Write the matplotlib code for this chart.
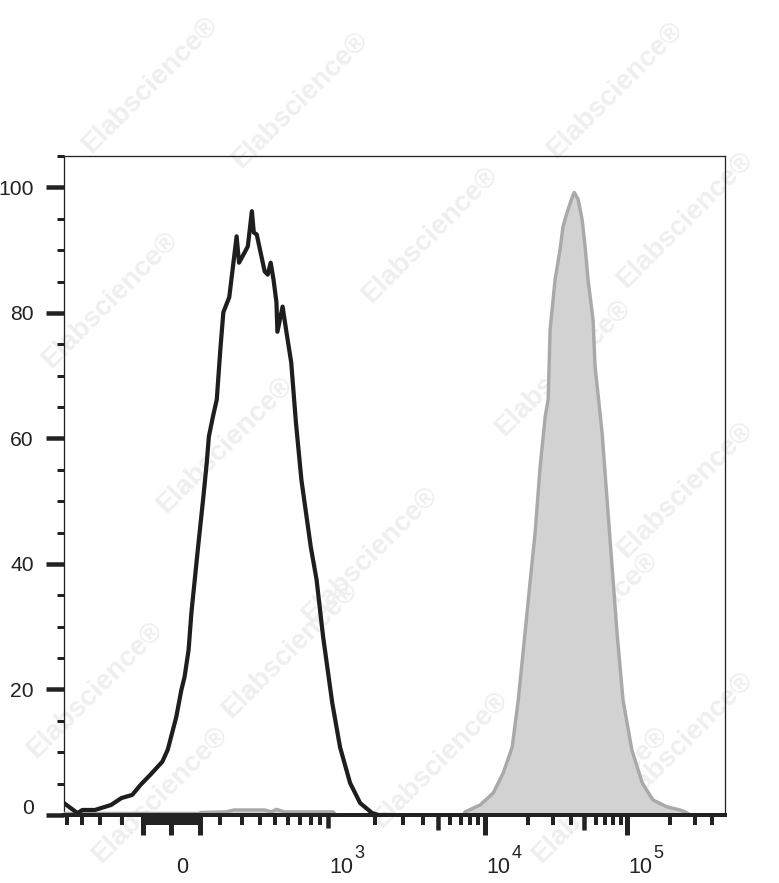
import numpy as np
import matplotlib
matplotlib.use("Agg")
import matplotlib.pyplot as plt
from matplotlib.transforms import ScaledTranslation

# ---------------- data ----------------
# control histogram (black outline), x = fluorescence, y = % of max
black_x = [-525, -431, -400, -328, -248, -204, -148, -110, -72, -30, -12, 16, 33, 44,
           58, 68, 93, 115, 130, 140, 160, 180, 200, 212, 237, 271, 283, 311, 328,
           350, 361, 378, 427, 447, 467, 487, 508, 515, 554, 585, 623, 662, 710,
           800, 863, 938, 1060, 1190, 1380, 1600, 1910, 2100, 2500]
black_y = [1.9, 0.3, 0.8, 0.8, 1.6, 2.7, 3.2, 4.8, 6.4, 8.5, 10.4, 15.6, 19.9, 22.0,
           26.3, 32.2, 42.7, 50.7, 56.1, 60.3, 63.5, 66.2, 74.2, 80.1, 82.5, 92.2, 88.0,
           89.6, 90.6, 96.2, 92.8, 92.5, 86.6, 86.1, 88.0, 85.3, 81.7, 77.0, 81.0, 76.9,
           72.1, 62.5, 53.4, 42.7, 37.5, 28.4, 17.9, 10.8, 5.1, 1.9, 0.3, 0.0, 0.0]

# stained histogram (grey filled)
gray_x = [-525, 95, 103, 225, 258, 427, 473, 508, 569, 1075, 1120, 7240, 7460, 9290,
          1.14e4, 1.34e4, 1.55e4, 1.71e4, 1.91e4, 2.07e4, 2.25e4, 2.44e4, 2.65e4,
          2.78e4, 2.87e4, 3.11e4, 3.37e4, 3.54e4, 3.78e4, 4.10e4, 4.24e4, 4.52e4,
          4.82e4, 5.06e4, 5.31e4, 5.76e4, 5.95e4, 6.67e4, 7.23e4, 7.84e4, 8.50e4,
          9.37e4, 1.08e5, 1.28e5, 1.52e5, 1.91e5, 2.36e5, 2.56e5, 2.8e5, 4.9e5]
gray_y = [0.25, 0.25, 0.4, 0.5, 0.8, 0.8, 0.5, 0.9, 0.5, 0.5, 0, 0, 0.5, 1.6,
          3.5, 6.7, 10.8, 18.3, 29.0, 37.0, 45.0, 55.5, 63.5,
          66.2, 77.4, 85.3, 90.1, 93.8, 96.0, 98.4, 99.2, 98.1,
          94.9, 90.6, 85.3, 78.9, 71.5, 60.9, 50.2, 39.6, 29.0,
          18.3, 10.4, 5.1, 2.4, 1.3, 0.8, 0.5, 0, 0]

x_major = [-100, 0, 100, 1e3, 5e3, 1e4, 5e4, 1e5]
x_major_labels = ["", "0", "", "10", "", "10", "", "10"]
x_major_exponents = ["", "", "", "3", "", "4", "", "5"]
x_minor = ([-500, -400, -300, -200] + list(range(-90, 0, 10)) + list(range(10, 100, 10))
           + [200, 300, 400, 500, 600, 700, 800, 900]
           + [2e3, 3e3, 4e3, 6e3, 7e3, 8e3, 9e3]
           + [2e4, 3e4, 4e4, 6e4, 7e4, 8e4, 9e4]
           + [2e5, 3e5, 4e5])
y_major = [0, 20, 40, 60, 80, 100]
y_minor = [5, 10, 15, 25, 30, 35, 45, 50, 55, 65, 70, 75, 85, 90, 95, 105]

# ---------------- biexponential-like display scale ----------------
SCALE_V = np.array([0, 100, 200, 300, 400, 500, 600, 700, 800, 900, 1000, 1e4, 1e5])
SCALE_O = np.array([0, 28.5, 49, 71, 89, 104, 117, 129, 139.5, 148.5, 157, 314, 456])
SCALE_C = 150.0
SCALE_A = np.arcsinh(SCALE_V / SCALE_C)
DEC_HI = 142.0


def _fwd(v):
    v = np.asarray(v, dtype=float)
    a = np.abs(v)
    lo = np.interp(np.arcsinh(a / SCALE_C), SCALE_A, SCALE_O)
    hi = SCALE_O[-1] + DEC_HI * np.log10(np.maximum(a, 1.0) / SCALE_V[-1])
    return np.sign(v) * np.where(a <= SCALE_V[-1], lo, hi)


def _inv(o):
    o = np.asarray(o, dtype=float)
    b = np.abs(o)
    lo = SCALE_C * np.sinh(np.interp(b, SCALE_O, SCALE_A))
    hi = SCALE_V[-1] * 10 ** (np.minimum(b - SCALE_O[-1], 2000) / DEC_HI)
    return np.sign(o) * np.where(b <= SCALE_O[-1], lo, hi)


# ---------------- figure ----------------
plt.rcParams["font.family"] = ["Liberation Sans", "DejaVu Sans"]

PX = 0.72  # points per pixel at 100 dpi
W, H = 779, 883
fig = plt.figure(figsize=(W / 100, H / 100), dpi=100)
ax = fig.add_axes([64 / W, 1 - 815 / H, (725 - 64) / W, (815 - 156) / H])
ax.patch.set_visible(False)

# faint watermarks
wm_pos = [(150, 85), (300, 100), (615, 90), (685, 220), (430, 235),
          (110, 300), (563, 368), (225, 445), (685, 490), (370, 555), (290, 650),
          (590, 620), (95, 690), (440, 760), (685, 740), (160, 795), (600, 795)]
for (px_, py_) in wm_pos:
    fig.text(px_ / W, 1 - py_ / H, "Elabscience\u00ae", rotation=45, ha="center",
             va="center", rotation_mode="anchor", fontsize=20, fontweight="bold",
             color="#efefef", zorder=-5)

ax.set_xscale("function", functions=(_fwd, _inv))
ax.fill_between(gray_x, gray_y, 0, color="#d2d2d2", linewidth=0, zorder=2)
ax.plot(gray_x, gray_y, color="#a9a9a9", lw=3.4 * PX, zorder=3,
        solid_joinstyle="round")
ax.plot(black_x, black_y, color="#1e1e1e", lw=4.2 * PX, zorder=4,
        solid_joinstyle="round")

ax.set_xlim(-525, 4.9e5)
ax.set_ylim(0, 105)

# spines
for s in ["top", "right", "left"]:
    ax.spines[s].set_linewidth(1.3 * PX)
    ax.spines[s].set_color("#222222")
ax.spines["bottom"].set_linewidth(4 * PX)
ax.spines["bottom"].set_color("#222222")
ax.spines["bottom"].set_zorder(5)

# y ticks
ax.set_yticks(y_major)
ax.set_yticks(y_minor, minor=True)
ax.tick_params(axis="y", which="major", length=18 * PX, width=4.5 * PX,
               color="#222222", pad=12 * PX, labelsize=15.2, labelcolor="#222222")
ax.tick_params(axis="y", which="minor", length=7 * PX, width=3 * PX, color="#222222")

# x ticks
ax.set_xticks(x_major, labels=x_major_labels)
ax.set_xticks(x_minor, minor=True)
ax.tick_params(axis="x", which="major", length=20 * PX, width=5 * PX,
               color="#222222", pad=38 * PX, labelsize=15.5, labelcolor="#222222")
ax.tick_params(axis="x", which="minor", length=10 * PX, width=4 * PX, color="#222222")

# zero label on y sits a little above its tick
ytk0 = ax.yaxis.get_major_ticks()[0].label1
ytk0.set_transform(ytk0.get_transform() + ScaledTranslation(0, 8 / 100, fig.dpi_scale_trans))

# individual tick lengths / label placement
tick_len = {1e3: 13, 5e3: 15, 5e4: 15}
for loc, tk, ex in zip(x_major, ax.xaxis.get_major_ticks(), x_major_exponents):
    if loc in tick_len:
        tk.tick1line.set_markersize(tick_len[loc] * PX)
        tk.tick1line.set_markeredgewidth(4.5 * PX)
    lab = tk.label1
    lab.set_verticalalignment("baseline")
    if loc == 0:
        lab.set_horizontalalignment("center")
        lab.set_transform(lab.get_transform() + ScaledTranslation(11 / 100, 0, fig.dpi_scale_trans))
    else:
        lab.set_horizontalalignment("left")
        lab.set_transform(lab.get_transform() + ScaledTranslation(1 / 100, 0, fig.dpi_scale_trans))
    if ex:
        ax.annotate(ex, xy=(loc, 0), xycoords=ax.get_xaxis_transform(),
                    xytext=(26 * PX, -43 * PX), textcoords="offset points",
                    ha="left", va="baseline", fontsize=13, color="#222222",
                    annotation_clip=False)

fig.savefig("out.png", dpi=100)
